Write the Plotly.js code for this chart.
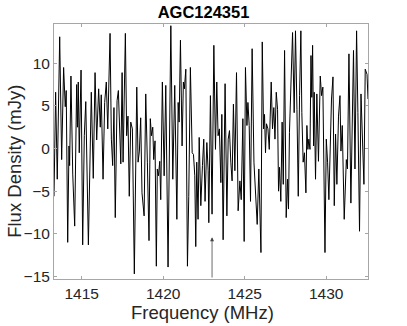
<!DOCTYPE html>
<html>
<head>
<meta charset="utf-8">
<script src="https://cdn.plot.ly/plotly-3.0.1.min.js"></script>
<style>
  html, body { margin: 0; padding: 0; background: #fff; }
  #plot { width: 407px; height: 326px; }
</style>
</head>
<body>
<div id="plot"></div>
<script>
// Spectrum of AGC124351
const freq = [
  1413.30, 1413.40, 1413.50, 1413.65, 1413.77, 1413.89, 1413.99, 1414.05, 1414.14, 1414.22,
  1414.26, 1414.34, 1414.45, 1414.57, 1414.69, 1414.74, 1414.79, 1414.85, 1414.96, 1415.06,
  1415.16, 1415.25, 1415.41, 1415.59, 1415.71, 1415.82, 1415.92, 1416.04, 1416.14, 1416.20,
  1416.31, 1416.41, 1416.51, 1416.60, 1416.74, 1416.82, 1416.90, 1416.98, 1417.06, 1417.17,
  1417.25, 1417.31, 1417.40, 1417.48, 1417.54, 1417.68, 1417.76, 1417.84, 1417.92, 1418.01,
  1418.11, 1418.23, 1418.38, 1418.46, 1418.54, 1418.62, 1418.70, 1418.83, 1418.93, 1419.03,
  1419.13, 1419.21, 1419.28, 1419.36, 1419.42, 1419.50, 1419.58, 1419.64, 1419.71, 1419.79,
  1419.85, 1419.95, 1420.06, 1420.16, 1420.30, 1420.47, 1420.59, 1420.71, 1420.84, 1420.92,
  1420.98, 1421.06, 1421.16, 1421.24, 1421.30, 1421.39, 1421.49, 1421.57, 1421.67, 1421.78,
  1421.86, 1421.94, 1422.00, 1422.06, 1422.14, 1422.21, 1422.31, 1422.41, 1422.49, 1422.57,
  1422.68, 1422.76, 1422.80, 1422.90, 1423.00, 1423.11, 1423.21, 1423.29, 1423.37, 1423.45,
  1423.54, 1423.60, 1423.68, 1423.80, 1423.91, 1423.99, 1424.07, 1424.15, 1424.23, 1424.31,
  1424.40, 1424.50, 1424.60, 1424.71, 1424.79, 1424.89, 1424.97, 1425.05, 1425.14, 1425.20,
  1425.28, 1425.36, 1425.46, 1425.57, 1425.66, 1425.77, 1425.87, 1426.00, 1426.08, 1426.16,
  1426.22, 1426.28, 1426.34, 1426.43, 1426.51, 1426.63, 1426.71, 1426.79, 1426.86, 1426.94,
  1427.02, 1427.08, 1427.14, 1427.22, 1427.30, 1427.37, 1427.45, 1427.55, 1427.63, 1427.69,
  1427.75, 1427.84, 1427.94, 1428.04, 1428.12, 1428.21, 1428.29, 1428.37, 1428.45, 1428.51,
  1428.59, 1428.67, 1428.76, 1428.82, 1428.88, 1428.94, 1429.01, 1429.07, 1429.12, 1429.17,
  1429.23, 1429.27, 1429.35, 1429.43, 1429.53, 1429.64, 1429.72, 1429.80, 1429.86, 1429.93,
  1430.01, 1430.09, 1430.17, 1430.25, 1430.33, 1430.42, 1430.50, 1430.58, 1430.66, 1430.76,
  1430.85, 1430.91, 1430.99, 1431.11, 1431.24, 1431.31, 1431.40, 1431.52, 1431.60, 1431.68,
  1431.77, 1431.87, 1431.95, 1432.05, 1432.14, 1432.24, 1432.32, 1432.40, 1432.51, 1432.57
];
const flux = [
  -5.6, 6.6, -3.6, 13.1, -1.3, 9.5, 4.9, 6.8, -11.0, 0.3,
  -2.0, 8.5, -3.0, -9.1, 7.5, 2.5, 7.8, -0.5, 9.2, -11.3,
  1.5, 5.5, -11.3, 6.6, -3.5, 8.9, 1.0, 7.0, 2.5, 6.3,
  -3.6, 5.4, 7.8, 2.3, 13.5, 1.1, -2.0, 4.8, -8.1, 5.6,
  6.8, 3.1, -1.8, 8.9, -1.6, 13.5, 1.5, 3.8, -5.6, 3.1,
  2.3, -14.7, 7.2, -1.6, -0.3, 3.6, -5.2, -7.9, 6.4, -1.6,
  -10.8, 3.5, 1.5, 2.5, -1.3, 0.9, -13.8, -2.4, -3.2, -1.5,
  -6.0, 7.8, -3.2, 7.4, -13.9, 14.4, -3.6, 7.4, -8.3, 5.4,
  3.1, 12.7, 0.3, 7.8, 7.0, 9.3, -13.8, -5.6, 9.5, -0.5,
  -0.7, -3.2, -11.5, -1.6, -8.3, 1.3, -6.7, -2.0, 1.1, -6.2,
  0.7, -2.6, -8.7, 6.2, -7.7, 12.1, -0.1, 7.8, 1.5, 2.3,
  -4.0, 4.0, -10.7, 7.6, -7.9, 1.1, 2.1, -1.6, -3.8, 5.2,
  -2.6, 8.9, -7.3, -3.8, -6.0, 3.5, -10.9, 9.5, 2.7, 5.4,
  2.7, -6.2, 11.7, -1.6, -5.2, -8.9, -2.4, -12.2, 12.5, 2.3,
  4.0, -0.5, 2.9, 2.3, -0.1, 7.8, 2.3, 4.8, 1.1, 6.6,
  4.6, -5.0, -2.2, -6.2, 3.1, -4.2, 11.5, -8.1, -3.6, -7.1,
  1.9, 7.4, 13.6, 4.2, 13.8, 4.6, -5.6, 6.2, 13.8, 4.2,
  -1.6, -0.5, -5.2, 2.7, -0.1, 1.1, -0.1, 10.9, 6.0, 12.1,
  0.3, 6.6, -3.6, 6.4, -1.5, 8.5, 6.2, 7.2, -4.4, -12.2,
  1.1, -1.6, -6.0, 2.3, 5.8, 8.4, -6.7, 1.7, -4.2, 3.8,
  6.2, -0.3, 2.7, -8.3, -1.3, -2.4, 11.1, -6.4, 5.4, 11.5,
  -2.4, 13.8, 4.2, -9.7, 6.4, -0.9, -4.2, 9.3, 8.7, 5.8
];

// arrow marking the expected line frequency
const arrowFreq = 1423.0;
const arrowTip = -10.4;

const xTicks = [1415, 1420, 1425, 1430];
const yTicks = [-15, -10, -5, 0, 5, 10];

const font = "Liberation Sans, Arial, sans-serif";

const trace = {
  x: freq,
  y: flux,
  type: "scatter",
  mode: "lines",
  line: {color: "#000000", width: 1},
  hoverinfo: "skip"
};

const axisStyle = {
  showline: true,
  linecolor: "#a6a6a6",
  linewidth: 1,
  mirror: "ticks",
  ticks: "inside",
  ticklen: 3,
  tickcolor: "#a6a6a6",
  showgrid: false,
  zeroline: false,
  tickfont: {family: font, size: 15.5, color: "#262626"}
};

const layout = {
  width: 407,
  height: 326,
  margin: {l: 54, r: 39, t: 24, b: 47},
  paper_bgcolor: "#ffffff",
  plot_bgcolor: "#ffffff",
  showlegend: false,
  title: {
    text: "<b>AGC124351</b>",
    font: {family: font, size: 16.5, color: "#000000"},
    x: 0.5, xref: "container",
    y: 0.962, yref: "container", yanchor: "middle"
  },
  xaxis: Object.assign({}, axisStyle, {
    range: [1413.3, 1432.57],
    tickvals: xTicks
  }),
  yaxis: Object.assign({}, axisStyle, {
    range: [-15.3, 14.6],
    tickvals: yTicks
  }),
  annotations: [
    {
      x: arrowFreq, y: arrowTip,
      ax: arrowFreq, ay: -15.3,
      xref: "x", yref: "y", axref: "x", ayref: "y",
      text: "",
      showarrow: true,
      arrowhead: 2,
      arrowsize: 1,
      arrowwidth: 0.8,
      arrowcolor: "#444444"
    },
    {
      text: "Frequency (MHz)",
      xref: "paper", yref: "paper",
      x: 0.4745, y: -0.133,
      xanchor: "center", yanchor: "middle",
      showarrow: false,
      font: {family: font, size: 18.5, color: "#262626"}
    },
    {
      text: "Flux Density (mJy)",
      xref: "paper", yref: "paper",
      x: -0.128, y: 0.4627,
      xanchor: "center", yanchor: "middle",
      textangle: -90,
      showarrow: false,
      font: {family: font, size: 18.5, color: "#262626"}
    }
  ]
};

Plotly.newPlot("plot", [trace], layout, {displayModeBar: false, staticPlot: true});
</script>
</body>
</html>
